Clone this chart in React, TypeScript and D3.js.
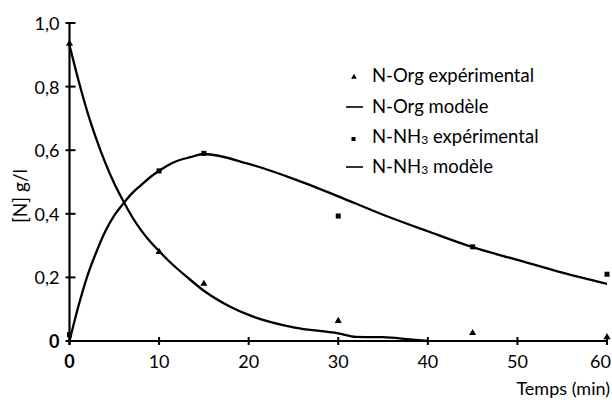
import React from "react";
import * as d3 from "d3";

const xTicks = [0, 10, 20, 30, 40, 50, 60];
const yTicks = [0, 0.2, 0.4, 0.6, 0.8, 1.0];
const yTickLabels = ["0", "0,2", "0,4", "0,6", "0,8", "1,0"];

const expTimes = [0, 10, 15, 30, 45, 60];
const orgExp = [0.935, 0.28, 0.18, 0.063, 0.025, 0.012];
const nh3Exp = [0.02, 0.535, 0.59, 0.393, 0.296, 0.21];

const orgModelT = [0, 1, 2, 3, 4, 5, 6, 7, 8, 9, 10, 11, 12, 13, 15, 18, 20, 25, 30, 32, 35, 38, 40];
const orgModelV = [0.93, 0.82, 0.72, 0.635, 0.56, 0.495, 0.44, 0.39, 0.348, 0.313, 0.283, 0.254, 0.228, 0.204, 0.158, 0.107, 0.082, 0.043, 0.024, 0.013, 0.012, 0.005, 0];

const nh3ModelT = [0, 1, 2, 3, 4, 5, 6, 7, 8, 9, 10, 11, 12, 13.5, 15, 20, 25, 30, 35, 40, 45, 50, 55, 60];
const nh3ModelV = [0, 0.11, 0.205, 0.28, 0.345, 0.395, 0.432, 0.465, 0.49, 0.515, 0.535, 0.553, 0.566, 0.578, 0.588, 0.557, 0.51, 0.455, 0.397, 0.345, 0.295, 0.255, 0.215, 0.18];

const legendItems = [
  { kind: "tri", label: "N-Org expérimental" },
  { kind: "line", label: "N-Org modèle" },
  { kind: "sq", label: "N-NH3 expérimental" },
  { kind: "line", label: "N-NH3 modèle" },
];

const FONT = "Lato, 'Open Sans', sans-serif";

function Label({ text }: { text: string }) {
  const i = text.indexOf("NH3");
  if (i < 0) return <>{text}</>;
  return (
    <>
      {text.slice(0, i + 2)}
      <tspan fontSize="12" dy="1">3</tspan>
      <tspan dy="-1">{text.slice(i + 3)}</tspan>
    </>
  );
}

export default function App() {
  const W = 612, H = 403;
  const x = d3.scaleLinear().domain([0, 60]).range([69.5, 607]);
  const y = d3.scaleLinear().domain([0, 1]).range([341, 23]);
  const line = d3
    .line<[number, number]>()
    .x((d) => x(d[0]))
    .y((d) => y(d[1]))
    .curve(d3.curveMonotoneX);
  const orgPts = orgModelT.map((t, i) => [t, orgModelV[i]] as [number, number]);
  const nh3Pts = nh3ModelT.map((t, i) => [t, nh3ModelV[i]] as [number, number]);
  const tri = d3.symbol(d3.symbolTriangle, 22)();
  const legY = [82, 113, 143, 173];

  return (
    <svg width={W} height={H} style={{ position: "absolute", left: 0, top: 0, background: "#fff" }} fontFamily={FONT}>
      {/* axes */}
      <line x1={x(0)} x2={x(60)} y1={y(0)} y2={y(0)} stroke="#000" strokeWidth={2} />
      <line x1={x(0)} x2={x(0)} y1={y(0) + 4} y2={y(1)} stroke="#000" strokeWidth={2.2} />
      {yTicks.map((t, i) => (
        <g key={"yt" + i}>
          <line x1={x(0) - 4} x2={x(0) + 6} y1={y(t)} y2={y(t)} stroke="#000" strokeWidth={2} />
          <text
            x={x(0) - 10}
            y={y(t) + 7}
            textAnchor="end"
            fontSize={18}
            fontWeight={t === 0 ? 700 : 400}
          >
            {yTickLabels[i]}
          </text>
        </g>
      ))}
      {xTicks.map((t) => (
        <g key={"xt" + t}>
          <line x1={x(t)} x2={x(t)} y1={y(0) - 4} y2={y(0) + 4} stroke="#000" strokeWidth={2} />
          <text
            x={t === 60 ? 611 : x(t)}
            y={368}
            textAnchor={t === 60 ? "end" : "middle"}
            fontSize={18}
            fontWeight={t === 0 ? 700 : 400}
          >
            {t}
          </text>
        </g>
      ))}
      <text x={610} y={395} textAnchor="end" fontSize={18}>
        Temps (min)
      </text>
      <text transform="translate(27,196) rotate(-90)" textAnchor="middle" fontSize={19}>
        [N] g/l
      </text>

      {/* model curves */}
      <path d={line(orgPts) || ""} fill="none" stroke="#000" strokeWidth={2.3} />
      <path d={line(nh3Pts) || ""} fill="none" stroke="#000" strokeWidth={2.3} />

      {/* experimental points */}
      {expTimes.map((t, i) => (
        <path key={"to" + i} d={tri || ""} transform={`translate(${x(t)},${y(orgExp[i])})`} fill="#000" />
      ))}
      {expTimes.map((t, i) => (
        <rect key={"sn" + i} x={x(t) - 2.5} y={y(nh3Exp[i]) - 2.5} width={5} height={5} fill="#000" />
      ))}

      {/* legend */}
      {legendItems.map((it, i) => (
        <g key={"lg" + i}>
          {it.kind === "tri" && <path d={d3.symbol(d3.symbolTriangle, 14)() || ""} transform={`translate(354,${legY[i] - 5})`} fill="#000" />}
          {it.kind === "sq" && <rect x={351.5} y={legY[i] - 6} width={4} height={4} fill="#000" />}
          {it.kind === "line" && <line x1={346} x2={363} y1={legY[i] - 6} y2={legY[i] - 6} stroke="#000" strokeWidth={1.6} />}
          <text x={372} y={legY[i]} fontSize={18.5}>
            <Label text={it.label} />
          </text>
        </g>
      ))}
    </svg>
  );
}
